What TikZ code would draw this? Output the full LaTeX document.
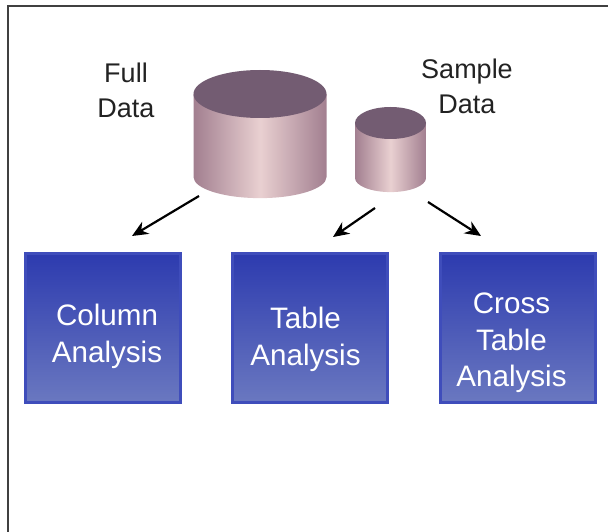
\documentclass[tikz,border=0pt]{standalone}
\usepackage{fontspec}
\setmainfont{Liberation Sans}
\usetikzlibrary{arrows.meta}
\definecolor{frameline}{HTML}{404040}
\definecolor{dbtop}{HTML}{735C72}
\definecolor{dbside}{HTML}{A27F90}
\definecolor{dbmid}{HTML}{E9D0D1}
\definecolor{boxline}{HTML}{3F4DBB}
\definecolor{boxhigh}{HTML}{2D3BAF}
\definecolor{boxlow}{HTML}{6A78C0}
\definecolor{labelgray}{HTML}{222222}
\tikzset{
  anabox/.style={draw=boxline,line width=3pt,top color=boxhigh,bottom color=boxlow,
    minimum width=155pt,minimum height=149pt,inner sep=0pt,outer sep=0pt},
  analabel/.style={text=white,align=center,font=\fontsize{29.6}{36.5}\selectfont},
  dblabel/.style={text=labelgray,align=center,font=\fontsize{27}{35}\selectfont},
  flow/.style={draw=black,line width=2.2pt,-{Stealth[length=16pt,width=14pt]}},
  dbbody/.style={left color=dbside,right color=dbside,middle color=dbmid},
}
\begin{document}
\begin{tikzpicture}[x=1pt,y=-1pt]
\useasboundingbox (0,0) rectangle (608,532);
\draw[frameline,line width=2.8pt] (608,6) -- (8,6) -- (8,532);
% cylinders: centre x, top y, side height, rx, ry
\foreach \cx/\cy/\h/\rx/\ry in {260/94/83/66.5/24,390.5/123/55/35.5/16}{
  \path[dbbody] (\cx-\rx,\cy) -- (\cx-\rx,\cy+\h) arc[start angle=180,end angle=360,x radius=\rx,y radius=-\ry*0.88]
    -- (\cx+\rx,\cy) -- cycle;
  \fill[dbtop] (\cx,\cy) ellipse [x radius=\rx,y radius=\ry];
}
\node[dblabel] (fulllabel) at (126,90) {Full\\Data};
\node[dblabel] (samplelabel) at (467,86) {Sample\\Data};
\node[anabox] (column) at (103,328) {};
\node[anabox] (table) at (310,328) {};
\node[anabox] (cross) at (517.5,328) {};
\node[analabel] (columntext) at (107,336.5) {Column\\Analysis};
\node[analabel] (tabletext) at (305.5,339.5) {Table\\Analysis};
\node[analabel] (crosstext) at (511.5,343) {Cross\\Table\\Analysis};
\coordinate (fullout) at (199,196);
\coordinate (columnin) at (132,236);
\coordinate (sampleleft) at (375,208);
\coordinate (tablein) at (333,237);
\coordinate (sampleright) at (428,202);
\coordinate (crossin) at (481,236);
\draw[flow] (fullout) -- (columnin);
\draw[flow] (sampleleft) -- (tablein);
\draw[flow] (sampleright) -- (crossin);
\end{tikzpicture}
\end{document}
